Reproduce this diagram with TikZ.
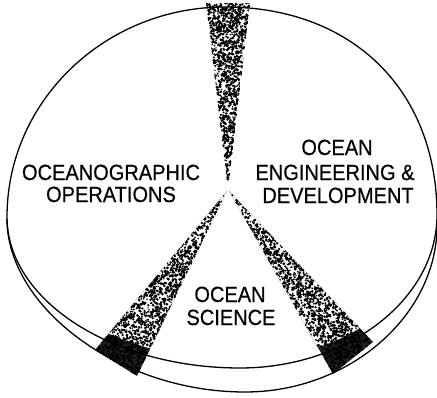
\documentclass[tikz,border=0pt]{standalone}
\usepackage{fontspec}
\setmainfont{Liberation Sans}
\newfontfamily\lblfont{Liberation Sans}[FakeBold=0.5]
\newcommand\mystipple[7]{%
  \foreach \i in {1,...,#7}{%
    \pgfmathsetmacro\stT{sqrt(rnd)}%
    \pgfmathsetmacro\stS{rnd}%
    \pgfmathsetmacro\stX{#1+\stT*((#3-#1)+\stS*(#5-#3))}%
    \pgfmathsetmacro\stY{#2+\stT*((#4-#2)+\stS*(#6-#4))}%
    \pgfmathsetmacro\stR{0.75+0.8*rnd}%
    \fill[black] (\stX,\stY) circle[radius=\stR];
  }%
}
\begin{document}
\begin{tikzpicture}[x=1pt,y=-1pt,
  outline/.style={line width=1.3pt, line join=round, draw=black},
  lbl/.style={font=\lblfont\fontsize{22}{24}\selectfont, anchor=base, inner sep=0pt, xscale=0.91},
  facepath/.style={insert path={
    (7,217) .. controls (7,101) and (105,7) .. (225,7)
            .. controls (352,7) and (437,90) .. (437,215)
            .. controls (437,299) and (348,368) .. (240,368)
            .. controls (112,368) and (7,300) .. (7,217) -- cycle}},
  edgepath/.style={insert path={
    (7,219) .. controls (7,306) and (118,392) .. (245,392)
            .. controls (351,392) and (437,314) .. (437,226)}}
]
\useasboundingbox (0,0) rectangle (437,397);
\pgfmathsetseed{4711}
% top wedge
\begin{scope}
  \clip (228,190) -- (206,3) -- (250,3) -- cycle;
  \mystipple{228}{190}{206}{3}{250}{3}{1150}
\end{scope}
% lower-left wedge
\begin{scope}
  \clip (227,191) -- (95,350) -- (137,376) -- cycle;
  \fill[black!88] (90,180) rectangle (240,380);
  \fill[white, shift={(0,-8)}, facepath];
  \mystipple{227}{191}{95}{350}{137}{376}{1250}
\end{scope}
% lower-right wedge
\begin{scope}
  \clip (229,191) -- (333,374) -- (373,342) -- cycle;
  \fill[black!88] (220,180) rectangle (380,380);
  \fill[white, shift={(0,-8)}, facepath];
  \mystipple{229}{191}{333}{374}{373}{342}{1300}
\end{scope}
% outlines of the disc
\path[outline, facepath];
\path[outline, edgepath];
% labels
\node[lbl] (op1) at (111,180) {OCEANOGRAPHIC};
\node[lbl] (op2) at (111,202) {OPERATIONS};
\node[lbl] (en1) at (337,155) {OCEAN};
\node[lbl] (en2) at (335,180) {ENGINEERING \&};
\node[lbl] (en3) at (338,203) {DEVELOPMENT};
\node[lbl] (sc1) at (230,302) {OCEAN};
\node[lbl] (sc2) at (231,325) {SCIENCE};
\end{tikzpicture}
\end{document}
